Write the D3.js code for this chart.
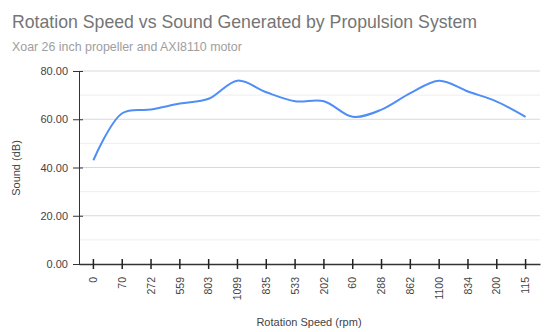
<!DOCTYPE html>
<html><head><meta charset="utf-8">
<script src="https://cdn.jsdelivr.net/npm/d3@7"></script>
<style>body{margin:0;background:#fff}svg{display:block;font-family:"Liberation Sans",Arial,sans-serif}</style>
</head><body>
<svg id="c" width="552" height="332"></svg>
<script>
const categories = ["0","70","272","559","803","1099","835","533","202","60","288","862","1100","834","200","115"];
const soundValues = [43, 62.5, 64, 66.5, 68.5, 76, 71.2, 67.5, 67.5, 61, 64, 70.8, 76, 71.5, 67.3, 61];
const yTicks = [0, 20, 40, 60, 80];
const yMinorTicks = [10, 30, 50, 70];

const svg = d3.select("#c");
const L = 79, R = 540, T = 71, B = 264;
const x = d3.scaleBand().domain(categories).range([L, R]).padding(0);
const y = d3.scaleLinear().domain([0, 80]).range([B, T]);

// title
svg.append("text").attr("x", 12).attr("y", 28).attr("font-size", 17.7).attr("fill", "#757575")
  .text("Rotation Speed vs Sound Generated by Propulsion System");
svg.append("text").attr("x", 12).attr("y", 51).attr("font-size", 12.4).attr("fill", "#9e9e9e")
  .text("Xoar 26 inch propeller and AXI8110 motor");

// gridlines
svg.append("g").selectAll("line").data(yMinorTicks).join("line")
  .attr("x1", L).attr("x2", R).attr("y1", d => y(d)).attr("y2", d => y(d))
  .attr("stroke", "#eeeeee").attr("stroke-width", 1);
svg.append("g").selectAll("line").data(yTicks.filter(d => d > 0)).join("line")
  .attr("x1", L).attr("x2", R).attr("y1", d => y(d)).attr("y2", d => y(d))
  .attr("stroke", "#d9d9d9").attr("stroke-width", 1);

// y axis
const yAxis = svg.append("g").attr("transform", `translate(${L},0)`)
  .call(d3.axisLeft(y).tickValues(yTicks).tickFormat(d3.format(".2f")).tickSize(6).tickPadding(5));
yAxis.select(".domain").attr("stroke", "#333");
yAxis.selectAll(".tick line").attr("stroke", "#333").attr("x2", 4).attr("x1", -6);
yAxis.selectAll("text").attr("font-size", 11).attr("fill", "#444").attr("font-family", "Liberation Sans, Arial, sans-serif");

// x axis
const xAxis = svg.append("g").attr("transform", `translate(0,${B})`)
  .call(d3.axisBottom(x).tickSize(5).tickSizeOuter(0));
xAxis.select(".domain").attr("stroke", "#333").attr("stroke-width", 1.3);
xAxis.selectAll(".tick line").attr("stroke", "#222").attr("stroke-width", 1.5).attr("y1", -5).attr("y2", 5);
xAxis.selectAll("text").attr("font-size", 10.5).attr("fill", "#444").attr("font-family", "Liberation Sans, Arial, sans-serif")
  .attr("transform", "rotate(-90)").attr("text-anchor", "end").attr("x", -13).attr("y", 0).attr("dy", "0.35em");

// axis titles
svg.append("text").attr("transform", "translate(20,168) rotate(-90)").attr("text-anchor", "middle")
  .attr("font-size", 11).attr("fill", "#444").text("Sound (dB)");
svg.append("text").attr("x", 309).attr("y", 326).attr("text-anchor", "middle")
  .attr("font-size", 11).attr("fill", "#444").text("Rotation Speed (rpm)");

// line
const line = d3.line().x((d, i) => x(categories[i]) + x.bandwidth() / 2).y(d => y(d))
  .curve(d3.curveCatmullRom.alpha(0.5));
svg.append("path").datum(soundValues).attr("d", line).attr("fill", "none")
  .attr("stroke", "#4f8ef7").attr("stroke-width", 2);
</script>
</body></html>
